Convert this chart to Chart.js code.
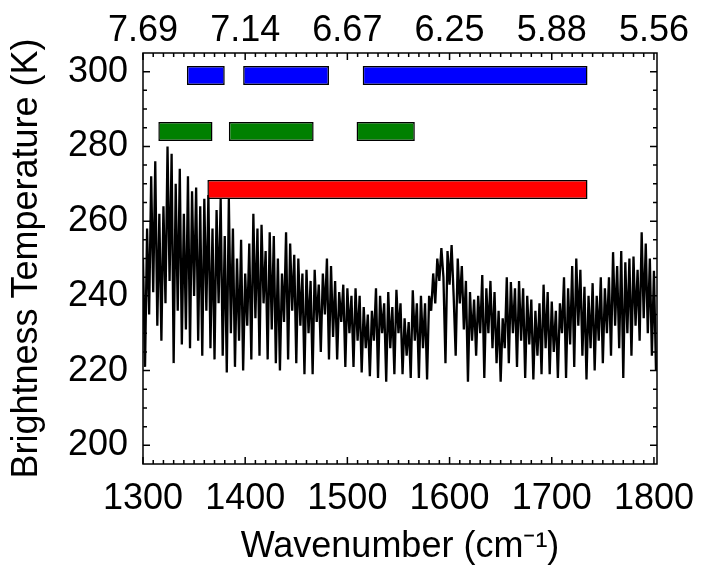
<!DOCTYPE html>
<html>
<head>
<meta charset="utf-8">
<script src="https://cdn.jsdelivr.net/npm/chart.js@4.4.1/dist/chart.umd.min.js"></script>
<style>
  body { margin: 0; background: #fff; }
</style>
</head>
<body>
<canvas id="myChart" width="703" height="573"></canvas>
<script>
// spectrum, one value every 2 cm-1 starting at 1300
var wnStart = 1300;
var wnStep = 2;
var brightTemp = [
  250, 221, 258, 235, 272, 241, 276, 232, 262, 228,
  264, 238, 280, 244, 278, 222, 270, 236, 274, 227,
  262, 231, 272, 226, 268, 240, 269, 228, 264, 224,
  266, 236, 267, 226, 258, 223, 263, 238, 266, 224,
  256, 219.5, 266, 230, 258, 221, 250, 228, 255, 220,
  246, 232, 254, 223, 262, 234, 258, 224, 259, 238,
  252, 223, 257, 231, 256, 222, 250, 220, 246, 233,
  257, 223, 254, 236, 251, 222, 250, 232, 246, 219,
  247, 230, 244, 219, 247, 233, 243, 225, 246, 235,
  250, 223, 248, 229, 244, 223, 241, 233, 243, 221,
  242, 230, 240, 221, 242, 228, 240, 219.5, 237, 226,
  235, 218.5, 236, 228, 242, 218, 240, 230, 238, 217,
  241, 226, 237, 219, 241.6, 230, 238, 219, 234, 224,
  233, 218, 241.5, 228, 238, 218, 240, 226, 238, 217.6,
  240, 236, 246, 238, 250, 244, 252.8, 245, 222, 252,
  243, 253.6, 240, 224, 250, 238, 248, 231, 244, 217,
  241, 228, 239, 224, 240, 230, 245.6, 218, 242, 230,
  244, 226, 241, 222, 236, 217, 234, 226, 245, 222,
  243.7, 230, 242, 221, 244, 228, 242, 218, 240, 227,
  239, 217.6, 236, 224, 238, 219, 243, 226, 241, 219,
  238.5, 225, 236, 218, 238, 230, 245, 218, 242, 227,
  248, 221, 250, 232, 247, 224, 242.4, 217.6, 240, 226,
  243.4, 220, 240, 228, 245, 222, 242, 230, 245, 224,
  251.7, 232, 248, 226, 252, 218, 249, 230, 250, 224,
  250.5, 232, 247, 228, 257, 234, 254, 230, 250, 224,
  246.7, 220
];

// coloured bars: [from, to] in cm-1 and the level they sit at
var blueRanges = [[1343, 1380], [1398, 1482], [1515, 1735]];
var blueLevel = 299;
var greenRanges = [[1315, 1368], [1384, 1467], [1509, 1566]];
var greenLevel = 284;
var redRanges = [[1363, 1735]];
var redLevel = 268.5;

var xTicks = [1300, 1400, 1500, 1600, 1700, 1800];
var topLabels = ["7.69", "7.14", "6.67", "6.25", "5.88", "5.56"];
var yTicks = [200, 220, 240, 260, 280, 300];
var xMin = 1300, xMax = 1803;
var yMin = 195, yMax = 305;

var points = brightTemp.map(function (t, i) {
  return { x: wnStart + i * wnStep, y: t };
});

function bars(ranges, level) {
  return ranges.map(function (r) { return { x: r, y: level }; });
}

// box round the plot with inward ticks (minor every 10 cm-1 / 5 K)
var frame = {
  id: "frame",
  afterDatasetsDraw: function (chart) {
    var ctx = chart.ctx;
    var a = chart.chartArea;
    var sx = chart.scales.x;
    var sy = chart.scales.y;
    ctx.save();
    ctx.strokeStyle = "#000";
    ctx.lineWidth = 1.5;
    ctx.beginPath();
    for (var v = 1300; v <= 1800; v += 10) {
      var px = sx.getPixelForValue(v);
      var len = v % 100 === 0 ? 7 : 4;
      ctx.moveTo(px, a.bottom); ctx.lineTo(px, a.bottom - len);
      ctx.moveTo(px, a.top); ctx.lineTo(px, a.top + len);
    }
    for (var t = 200; t <= 300; t += 5) {
      var py = sy.getPixelForValue(t);
      var l2 = t % 20 === 0 ? 7 : 4;
      ctx.moveTo(a.left, py); ctx.lineTo(a.left + l2, py);
      ctx.moveTo(a.right, py); ctx.lineTo(a.right - l2, py);
    }
    ctx.stroke();
    ctx.strokeRect(a.left, a.top, a.right - a.left, a.bottom - a.top);
    ctx.restore();
  }
};

Chart.defaults.font.family = "'Liberation Sans', Arial, sans-serif";
Chart.defaults.color = "#000";

var barCommon = {
  type: "bar",
  indexAxis: "y",
  grouped: false,
  maxBarThickness: 19,
  borderColor: "#000",
  borderWidth: 1.5,
  borderSkipped: false,
  xAxisID: "x",
  yAxisID: "y",
  order: 0
};

// labels may hang past the plot edge, the layout should not shrink for them
function fixHeight(h) {
  return function (s) { s.height = h; s.paddingLeft = 0; s.paddingRight = 0; };
}

var ctx = document.getElementById("myChart").getContext("2d");
var myChart = new Chart(ctx, {
  type: "line",
  data: {
    datasets: [
      Object.assign({}, barCommon, { label: "blue", data: bars(blueRanges, blueLevel), backgroundColor: "#0000ff" }),
      Object.assign({}, barCommon, { label: "green", data: bars(greenRanges, greenLevel), backgroundColor: "#008000" }),
      Object.assign({}, barCommon, { label: "red", data: bars(redRanges, redLevel), backgroundColor: "#ff0000" }),
      {
        type: "line",
        label: "spectrum",
        data: points,
        borderColor: "#000",
        borderWidth: 2.3,
        pointRadius: 0,
        tension: 0,
        fill: false,
        xAxisID: "x",
        yAxisID: "y",
        order: 1
      }
    ]
  },
  options: {
    responsive: false,
    animation: false,
    layout: { padding: { left: 0, right: 46, top: 0, bottom: 0 } },
    plugins: { legend: { display: false }, tooltip: { enabled: false } },
    scales: {
      x: {
        type: "linear",
        position: "bottom",
        min: xMin,
        max: xMax,
        offset: false,
        afterBuildTicks: function (s) { s.ticks = xTicks.map(function (v) { return { value: v }; }); },
        afterFit: fixHeight(109),
        grid: { display: false, drawTicks: false, offset: false },
        border: { display: false },
        ticks: { font: { size: 36 }, padding: 13, maxRotation: 0, callback: function (v) { return String(v); } },
        title: { display: true, text: "Wavenumber (cm\u207B\u00B9)", font: { size: 36 }, padding: { top: 0, bottom: 4 } }
      },
      x2: {
        type: "linear",
        position: "top",
        min: xMin,
        max: xMax,
        offset: false,
        afterBuildTicks: function (s) { s.ticks = xTicks.map(function (v) { return { value: v }; }); },
        afterFit: fixHeight(53),
        grid: { display: false, drawTicks: false, offset: false },
        border: { display: false },
        ticks: { font: { size: 36 }, padding: 0, maxRotation: 0, callback: function (v) { return topLabels[xTicks.indexOf(v)]; } }
      },
      y: {
        type: "linear",
        position: "left",
        min: yMin,
        max: yMax,
        offset: false,
        afterBuildTicks: function (s) { s.ticks = yTicks.map(function (v) { return { value: v }; }); },
        afterFit: function (s) { s.width = 143; s.paddingTop = 0; s.paddingBottom = 0; },
        grid: { display: false, drawTicks: false, offset: false },
        border: { display: false },
        ticks: { font: { size: 36 }, padding: 15 },
        title: { display: true, text: "Brightness Temperature (K)", font: { size: 36 }, padding: { top: 5, bottom: 0 } }
      }
    }
  },
  plugins: [frame]
});
</script>
</body>
</html>
